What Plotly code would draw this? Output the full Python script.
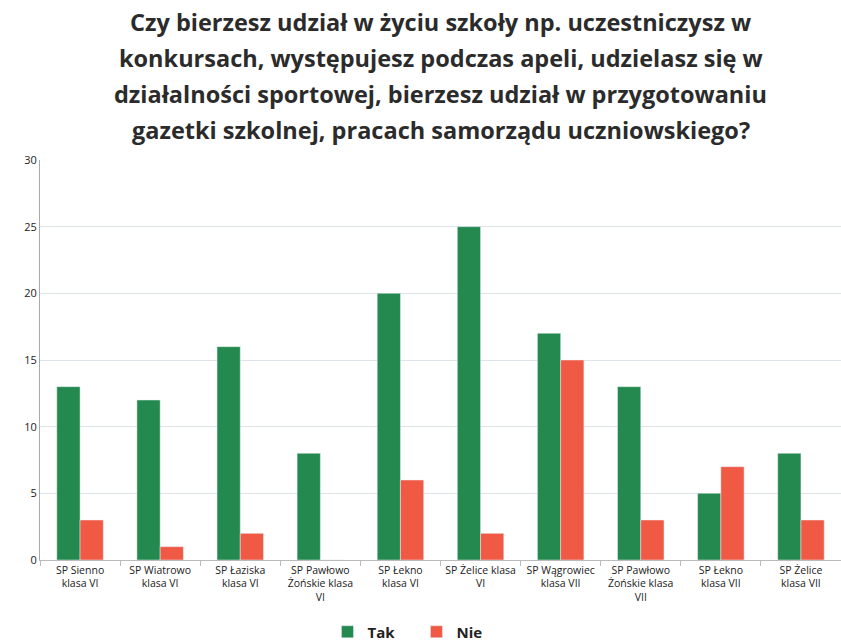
import plotly.graph_objects as go

categories = [
    "SP Sienno<br>klasa VI",
    "SP Wiatrowo<br>klasa VI",
    "SP Łaziska<br>klasa VI",
    "SP Pawłowo<br>Żońskie klasa<br>VI",
    "SP Łekno<br>klasa VI",
    "SP Żelice klasa<br>VI",
    "SP Wągrowiec<br>klasa VII",
    "SP Pawłowo<br>Żońskie klasa<br>VII",
    "SP Łekno<br>klasa VII",
    "SP Żelice<br>klasa VII",
]
tak = [13, 12, 16, 8, 20, 25, 17, 13, 5, 8]
nie = [3, 1, 2, 0, 6, 2, 15, 3, 7, 3]
y_ticks = [0, 5, 10, 15, 20, 25, 30]

title_lines = [
    "Czy bierzesz udział w życiu szkoły np. uczestniczysz w",
    "konkursach, występujesz podczas apeli, udzielasz się w",
    "działalności sportowej, bierzesz udział w przygotowaniu",
    "gazetki szkolnej, pracach samorządu uczniowskiego?",
]

fig = go.Figure()
fig.add_trace(go.Bar(name="<b>Tak</b>", x=categories, y=tak, marker_color="#23894f"))
fig.add_trace(go.Bar(name="<b>Nie</b>", x=categories, y=nie, marker_color="#f05a45"))

title_y = [1.345, 1.255, 1.165, 1.075]
annotations = []
for line, yy in zip(title_lines, title_y):
    annotations.append(dict(
        text="<b>" + line + "</b>", x=0.5, y=yy, xref="paper", yref="paper",
        showarrow=False, xanchor="center", yanchor="middle",
        font=dict(family="Open Sans", size=23.5, color="#2b2b2b"),
    ))

fig.update_layout(
    width=841, height=643,
    margin=dict(l=40, r=0, t=160, b=83, autoexpand=False),
    paper_bgcolor="white", plot_bgcolor="white",
    barmode="group", bargap=0.42, bargroupgap=0,
    font=dict(family="Open Sans", color="#333333"),
    annotations=annotations,
    legend=dict(orientation="h", x=0.47, xanchor="center", y=-0.18, yanchor="middle",
                font=dict(family="Open Sans", size=15, color="#222222"),
                entrywidth=44, entrywidthmode="pixels",
                traceorder="normal"),
    showlegend=True,
)
fig.update_xaxes(
    tickfont=dict(size=10.5, color="#222222"), tickangle=0,
    showline=True, linecolor="#bbbbbb", linewidth=1,
    ticks="outside", tickson="boundaries", ticklen=5, tickcolor="#bbbbbb",
    showgrid=False,
)
fig.update_yaxes(
    range=[0, 30], tickvals=y_ticks, tickfont=dict(size=11, color="#222222"),
    showgrid=True, gridcolor="#dde3e8", gridwidth=1,
    showline=True, linecolor="#aaaaaa", linewidth=1,
    ticks="", zeroline=False,
)

fig.write_html("out.html", config={"displayModeBar": False},
               post_script="document.body.style.margin='0';")
